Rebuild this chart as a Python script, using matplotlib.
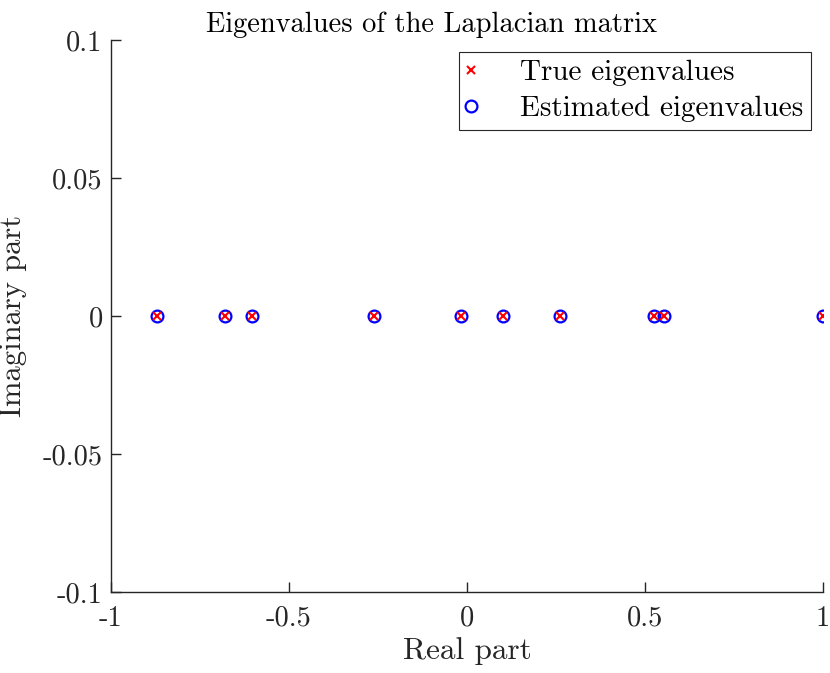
import numpy as np
import matplotlib
matplotlib.use("Agg")
import matplotlib.pyplot as plt

# eigenvalues (all real)
real_true = [-0.872, -0.681, -0.603, -0.262, -0.017, 0.101, 0.261, 0.525, 0.553, 1.0]
imag_true = [0, 0, 0, 0, 0, 0, 0, 0, 0, 0]
real_est = [-0.872, -0.681, -0.603, -0.262, -0.017, 0.101, 0.261, 0.525, 0.553, 1.0]
imag_est = [0, 0, 0, 0, 0, 0, 0, 0, 0, 0]

xticks = [-1, -0.5, 0, 0.5, 1]
xtick_labels = ["-1", "-0.5", "0", "0.5", "1"]
yticks = [-0.1, -0.05, 0, 0.05, 0.1]
ytick_labels = ["-0.1", "-0.05", "0", "0.05", "0.1"]

plt.rcParams["font.family"] = ["cmr10", "DejaVu Serif"]
plt.rcParams["mathtext.fontset"] = "cm"
plt.rcParams["axes.unicode_minus"] = False

AX = (0.15, 0.15, 0.15)

fig = plt.figure(figsize=(8.3, 6.73), dpi=100)
ax = fig.add_axes([0.1337, 0.1199, 0.8579, 0.8207])

ax.plot(real_true, imag_true, "x", color="red", markersize=5.5, markeredgewidth=1.5,
        label="True eigenvalues", zorder=3)
ax.plot(real_est, imag_est, "o", markerfacecolor="none", markeredgecolor="blue",
        markersize=8.5, markeredgewidth=1.6, label="Estimated eigenvalues", zorder=2)

ax.set_xlim(-1, 1)
ax.set_ylim(-0.1, 0.1)
ax.set_xticks(xticks)
ax.set_xticklabels(xtick_labels)
ax.set_yticks(yticks)
ax.set_yticklabels(ytick_labels)

for s in ["top", "right"]:
    ax.spines[s].set_visible(False)
for s in ["left", "bottom"]:
    ax.spines[s].set_color(AX)
    ax.spines[s].set_linewidth(1.0)
ax.tick_params(direction="in", length=7, width=1.0, colors=AX, labelsize=20.5,
               labelcolor=AX)
ax.tick_params(axis="x", pad=9.5)
ax.tick_params(axis="y", pad=6)

ax.set_xlabel("Real part", fontsize=22.5, color=AX, labelpad=4)
ax.set_ylabel("Imaginary part", fontsize=22, color=AX, labelpad=11)
ax.set_title("Eigenvalues of the Laplacian matrix", fontsize=20.5, pad=6, x=0.45)

leg = ax.legend(loc="upper right", fontsize=21, fancybox=False, framealpha=1,
                edgecolor=AX, borderaxespad=0.41, handletextpad=1.55,
                labelspacing=0.33, borderpad=0.26, handlelength=0.3)
leg.get_frame().set_linewidth(0.8)

fig.savefig("out.png", dpi=100)
